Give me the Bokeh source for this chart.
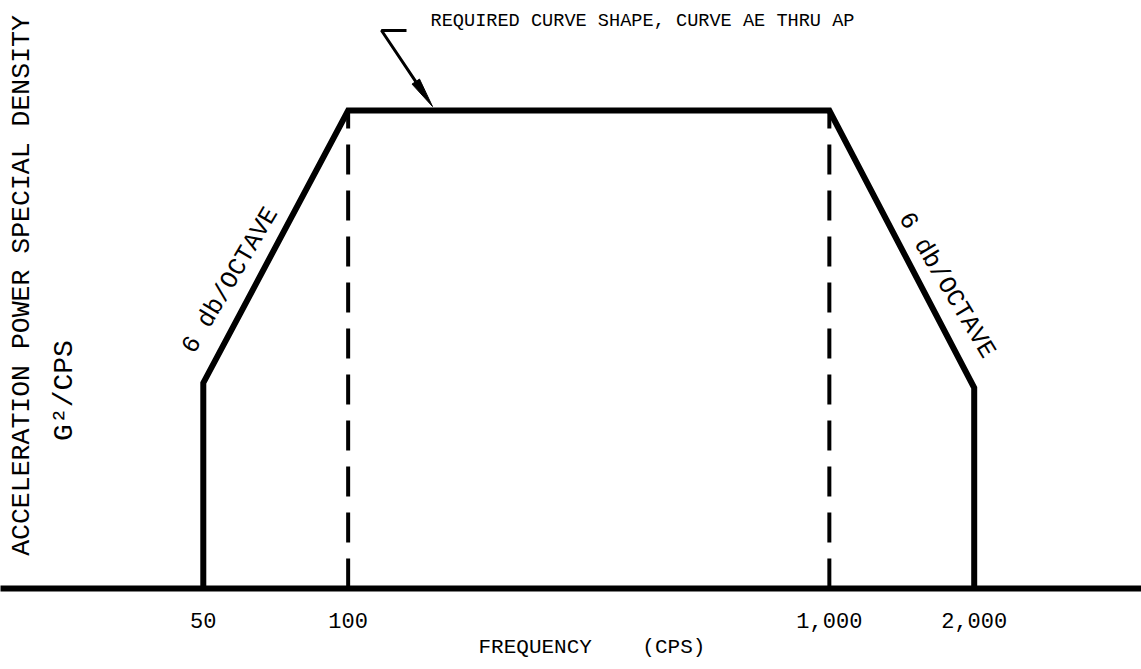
import math
from bokeh.plotting import figure
from bokeh.models import Range1d, FixedTicker, NumeralTickFormatter, Title
from bokeh.core.properties import value
from bokeh.embed import file_html
from bokeh.resources import INLINE

# ---- data ----
freq = [50, 100, 1000, 2000]          # break-point frequencies (cps)
level = [0.43, 1.0, 1.0, 0.42]        # relative G^2/cps at each break point
tick_values = [50, 100, 1000, 2000]
x_title = "FREQUENCY\u00a0\u00a0\u00a0\u00a0(CPS)"
y_title = ["ACCELERATION POWER SPECIAL DENSITY", "G\u00b2/CPS"]
slope_label = "6 db/OCTAVE"
callout = "REQUIRED CURVE SHAPE, CURVE AE THRU AP"

# ---- layout helpers (canvas pixels -> data coordinates) ----
W, H = 1141, 669
FRAME_H = 588
X_A, X_B = -614.75, 481.2          # canvas_x = X_A + X_B*log10(f)
BASE, UNIT = 588.0, 478.0          # canvas_y of y=0, pixels per unit


def fx(px):
    return 10 ** ((px - X_A) / X_B)


def fy(py):
    return (BASE - py) / UNIT


FONT = value("Liberation Mono")

p = figure(width=W, height=H, output_backend="svg", toolbar_location=None,
           x_axis_type="log", y_axis_location=None,
           x_range=Range1d(fx(0), fx(W)), y_range=Range1d(0, fy(0)),
           min_border_left=0, min_border_right=0, min_border_top=0,
           min_border_bottom=H - FRAME_H)
p.outline_line_color = None
p.grid.visible = False

ax = p.xaxis[0]
ax.ticker = FixedTicker(ticks=tick_values, minor_ticks=[])
ax.formatter = NumeralTickFormatter(format="0,0")
ax.axis_line_width = 6
ax.axis_line_color = "black"
ax.major_tick_line_color = None
ax.minor_tick_line_color = None
ax.major_label_text_font = "Liberation Mono"
ax.major_label_text_font_size = "22px"
ax.major_label_text_color = "black"
ax.major_label_standoff = 18

# x title row below the tick labels
p.add_layout(Title(text=x_title, align="left", offset=478, standoff=7,
                   text_font="Liberation Mono", text_font_size="21px",
                   text_font_style="normal", text_color="black"), "below")

# main curve
xs = [freq[0]] + freq + [freq[-1]]
ys = [0] + level + [0]
p.line(xs, ys, line_width=6, line_color="black", line_join="miter")

# dashed verticals at the plateau corners
p.segment(x0=freq[1:3], y0=[0, 0], x1=freq[1:3], y1=level[1:3],
          line_width=4, line_color="black", line_dash="30 16")

# y title (rotated)
p.text(x=[fx(21)], y=[fy(285)], text=[y_title[0]], angle=math.pi / 2,
       text_font=FONT, text_font_size="26.5px", text_align="center",
       text_baseline="middle", text_color="black")
p.text(x=[fx(64)], y=[fy(390)], text=[y_title[1]], angle=math.pi / 2,
       text_font=FONT, text_font_size="28px", text_align="center",
       text_baseline="middle", text_color="black")

# slope labels
p.text(x=[fx(230)], y=[fy(280)], text=[slope_label], angle=math.radians(59.4),
       text_font=FONT, text_font_size="25px", text_align="center",
       text_baseline="middle", text_color="black")
p.text(x=[fx(946)], y=[fy(285)], text=[slope_label], angle=math.radians(-59.0),
       text_font=FONT, text_font_size="25px", text_align="center",
       text_baseline="middle", text_color="black")

# callout text + leader + arrowhead
p.text(x=[fx(430)], y=[fy(21)], text=[callout], text_font=FONT,
       text_font_size="18.6px", text_align="left", text_baseline="middle",
       text_color="black")
tip = (432.0, 106.0)
start = (381.0, 30.0)
dx, dy = tip[0] - start[0], tip[1] - start[1]
L = math.hypot(dx, dy)
ux, uy = dx / L, dy / L
base = (tip[0] - 30 * ux, tip[1] - 30 * uy)
nx, ny = -uy * 4.5, ux * 4.5
p.line([fx(406), fx(start[0]), fx(base[0])], [fy(30), fy(start[1]), fy(base[1])],
       line_width=3, line_color="black")
p.patch([fx(tip[0]), fx(base[0] + nx), fx(base[0] - nx)],
        [fy(tip[1]), fy(base[1] + ny), fy(base[1] - ny)],
        fill_color="black", line_color="black", line_width=1)

open("out.html", "w").write(file_html(p, INLINE))
